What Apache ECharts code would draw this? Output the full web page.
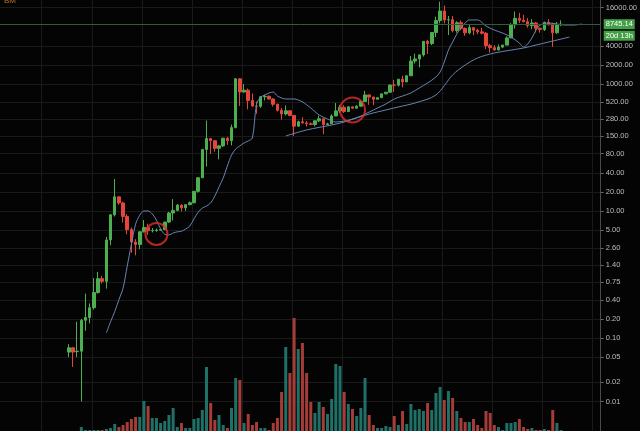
<!DOCTYPE html>
<html><head><meta charset="utf-8">
<script src="https://cdn.jsdelivr.net/npm/echarts@6/dist/echarts.min.js"></script>
<style>html,body{margin:0;padding:0;background:#040404;}#c{width:640px;height:431px;}</style>
</head><body><div id="c"></div>
<script>
// Monthly candles, Jul 2010 (index 0) .. May 2020 (index 118)
const opens  = [0.06,0.07,0.061,0.062,0.19,0.21,0.30,0.52,0.86,0.78,3.5,8.7,16.7,13.4,8.2,5.1,3.25,2.97,4.7,5.5,4.9,4.92,5.0,5.1,6.7,9.3,10.2,12.4,11.2,12.6,13.5,20.4,33.4,93,139,128,97,106,140,128,206,1205,750,800,550,450,447,630,640,580,480,386,338,378,320,217,254,244,236,230,263,284,230,236,314,377,430,368,437,416,448,531,673,624,575,609,700,742,963,960,1190,1080,1348,2300,2480,2875,4700,4340,6470,10000,14100,10200,10300,6930,9240,7500,6390,7730,7030,6625,6300,4017,3740,3440,3810,4100,5320,8570,10820,10080,9600,8300,9150,7550,7190,9350,8540,6410,8620];
const highs  = [0.08,0.072,0.18,0.20,0.50,0.35,0.88,1.10,0.95,3.9,9.0,31.9,17.0,14.0,8.9,5.5,3.6,4.8,7.2,6.3,5.4,5.3,5.2,6.7,9.7,15.4,12.9,12.7,12.7,14.1,20.7,34,95,266,140,130,110,143,147,230,1240,1240,1000,850,710,530,640,680,660,600,490,420,460,385,320,265,300,261,249,268,317,286,245,333,502,470,464,448,439,466,552,781,682,628,612,705,755,980,1160,1200,1350,1360,2760,3000,2920,4750,4980,6500,11500,19800,17200,11800,11700,9760,10000,7770,8500,7760,7400,7680,6600,4300,4100,4200,4140,5630,9070,13880,13200,12320,10900,10540,9500,7750,9580,10500,9190,9470,10070];
const lows   = [0.05,0.035,0.05,0.01,0.13,0.17,0.28,0.50,0.72,0.60,2.9,8.2,12.5,6.6,4.3,2.2,2.0,2.5,4.6,4.2,4.6,4.7,4.9,5.0,6.5,7.1,9.9,9.8,10.0,12.3,13.2,19.5,33.2,50,79,86,65,102,110,108,200,450,730,400,440,340,420,550,570,440,370,275,320,310,152,211,240,214,226,215,251,162,223,234,311,349,350,365,405,414,436,527,470,465,570,605,690,738,750,915,890,1070,1340,2100,1830,2700,2970,4110,5500,9000,9000,5900,6500,6430,7030,5750,6070,5880,6100,6050,3550,3120,3350,3380,3670,4080,5300,7470,9100,9320,7700,7300,6500,6430,6850,8450,3850,6150,8150];
const closes = [0.07,0.06,0.062,0.19,0.21,0.30,0.52,0.86,0.78,3.5,8.7,16.7,13.4,8.2,5.1,3.25,2.97,4.7,5.5,4.9,4.92,5.0,5.1,6.7,9.3,10.2,12.4,11.2,12.6,13.5,20.4,33.4,93,139,128,97,106,140,128,206,1205,750,800,550,450,447,630,640,580,480,386,338,378,320,217,254,244,236,230,263,284,230,236,314,377,430,368,437,416,448,531,673,624,575,609,700,742,963,960,1190,1080,1348,2300,2480,2875,4700,4340,6470,10000,14100,10200,10300,6930,9240,7500,6390,7730,7030,6625,6300,4017,3740,3440,3810,4100,5320,8570,10820,10080,9600,8300,9150,7550,7190,9350,8540,6410,8620,8745.14];
const volumes = [0,0,0,4,1,1,1,1,1,2,3,7,4,6,9,12,14,14,30,25,13,13,8,10,16,23,4,8,3,3,12,13,21,64,28,11,16,6,3,23,53,51,8,17,6,9,3,3,1,8,13,39,84,58,113,82,88,58,29,18,29,24,17,32,67,65,39,27,22,15,23,53,16,6,3,3,5,4,15,6,20,7,27,21,22,20,28,21,38,44,31,40,33,20,13,9,9,12,6,3,20,18,6,4,1,8,8,9,12,4,2,3,1,1,2,1,21,8,1];

// Displaced moving averages, by candle index
const shortIdx = [9,10,11,12,13,14,15,16,17,18,19,20,21,22,23,24,25,26,27,28,29,30,31,32,33,34,35,36,37,38,39,40,41,42,43,44,45,46,47,48,49,50,52,54,56,58,60,62,64,66,68,70,72,74,76,78,80,82,84,86,88,89,90,91,92,93,94,95,96,98,100,102,104,106,108,109,110,111,112,113,115,117,119,121,123];
const shortVal = [0.12,0.18,0.26,0.40,0.61,1.36,3.0,6.2,8.6,10.0,10.0,9.0,7.2,5.2,4.3,4.2,4.5,4.7,4.8,5.2,5.8,7.5,9.6,11.1,12.0,13.4,17.2,23.9,33,51,76,95,106,118,127,141,480,624,671,722,748,647,581,581,521,419,325,281,252,261,281,313,362,419,484,581,647,722,865,1037,1290,1545,2220,3430,4580,6120,7620,9140,10200,10200,8190,7080,6350,5490,4420,3830,4270,5300,7080,8490,9140,8810,8490,8490,8810];
const longIdx = [52,57,63,66,69,72,76,79,83,88,92,95,98,102,109,112,115,120];
const longVal = [152,189,226,252,292,337,390,435,503,671,1390,1990,2570,3080,3690,4110,4580,5490];

// Annotation circles
const circleIdx = [21, 68];
const circlePrice = [4.34, 390];
const circleSize = [22, 25];

// Axis ticks
const yTicks = [16000,4000,2000,1000,520,280,150,80,40,20,10,5,2.6,1.4,0.75,0.4,0.2,0.1,0.05,0.02,0.01];
const lastPrice = 8745.14;
const countdown = '20d 13h';

// Month categories: Mar 2009 .. Feb 2021
const categories = [];
{ let y = 2009, m = 3; for (let i = 0; i < 144; i++) { categories.push(y + '-' + String(m).padStart(2,'0')); m++; if (m > 12) { m = 1; y++; } } }
const offset = categories.indexOf('2010-07');

const UP = '#4caf50', DOWN = '#e5463c', VUP = '#1f7067', VDOWN = '#a53c37';
const candleData = categories.map((_, k) => {
  const i = k - offset;
  if (i < 0 || i >= closes.length) return '-';
  return [opens[i], closes[i], lows[i], highs[i]];
});
const volData = categories.map((_, k) => {
  const i = k - offset;
  if (i < 0 || i >= closes.length) return '-';
  return { value: volumes[i], itemStyle: { color: closes[i] >= opens[i] ? VUP : VDOWN } };
});
function sparse(idx, vals) {
  const arr = categories.map(() => null);
  idx.forEach((ix, j) => { arr[ix + offset] = vals[j]; });
  return arr;
}
const circleData = circleIdx.map((ix, j) => ({ value: [ix + offset, circlePrice[j]], symbolSize: circleSize[j] }));

const chart = echarts.init(document.getElementById('c'), null, { renderer: 'canvas' });
chart.setOption({
  backgroundColor: '#040404',
  animation: false,
  title: { text: 'BM', left: -1, top: -8, textStyle: { color: '#b86e26', fontSize: 8, fontWeight: 'normal' } },
  grid: { left: 0, right: 34, top: 0, bottom: 0 },
  xAxis: {
    type: 'category', data: categories, boundaryGap: true,
    axisLine: { show: false }, axisTick: { show: false }, axisLabel: { show: false },
    splitLine: { show: true, interval: (i, v) => String(v).endsWith('-01'), lineStyle: { color: '#1a1a1a', width: 1 } }
  },
  yAxis: [{
    type: 'log', logBase: 10, position: 'right', min: 0.00343, max: 21040,
    axisLine: { show: true, lineStyle: { color: '#4a4a4a' } },
    axisTick: { show: true, customValues: yTicks, length: 3, inside: false, lineStyle: { color: '#666' } },
    axisLabel: { customValues: yTicks, formatter: v => Number(v).toFixed(2), color: '#bdbdbd', fontSize: 7.5, margin: 5, fontFamily: 'Arial' },
    splitLine: { show: true, lineStyle: { color: '#1a1a1a', width: 1 } }
  }, {
    type: 'value', min: 0, max: 431, show: false, splitLine: { show: false }
  }],
  series: [
    {
      type: 'bar', name: 'vol', yAxisIndex: 1, data: volData, barWidth: 3, z: 1
    },
    {
      type: 'candlestick', name: 'price', data: candleData, barWidth: 3, z: 3,
      itemStyle: { color: UP, color0: DOWN, borderColor: UP, borderColor0: DOWN, borderWidth: 1 },
      markLine: {
        silent: true, symbol: ['none', 'none'],
        lineStyle: { color: '#2f5c3b', type: 'solid', width: 1 },
        label: {
          show: true, position: 'end', distance: 3,
          formatter: '{e|}\n{a|' + lastPrice.toFixed(2) + '}\n{b|' + countdown + '}',
          rich: {
            e: { height: 10, lineHeight: 11.5 },
            a: { backgroundColor: '#43a047', color: '#fff', fontSize: 7.5, width: 27, height: 10, lineHeight: 11.5, padding: [0, 2], fontFamily: 'Arial' },
            b: { backgroundColor: '#43a047', color: '#fff', fontSize: 7.5, width: 27, height: 10, lineHeight: 11.5, padding: [0, 2], fontFamily: 'Arial' }
          }
        },
        data: [{ yAxis: lastPrice }]
      }
    },
    {
      type: 'line', name: 'maShort', data: sparse(shortIdx, shortVal), connectNulls: true, smooth: 0.3,
      symbol: 'none', lineStyle: { color: '#6784b0', width: 1 }, z: 4
    },
    {
      type: 'line', name: 'maLong', data: sparse(longIdx, longVal), connectNulls: true, smooth: 0.3,
      symbol: 'none', lineStyle: { color: '#6784b0', width: 1 }, z: 4
    },
    {
      type: 'scatter', name: 'marks', data: circleData, symbol: 'circle', z: 5,
      itemStyle: { color: 'rgba(0,0,0,0)', borderColor: '#e0302a', borderWidth: 2 }
    }
  ]
});
</script>
</body></html>
